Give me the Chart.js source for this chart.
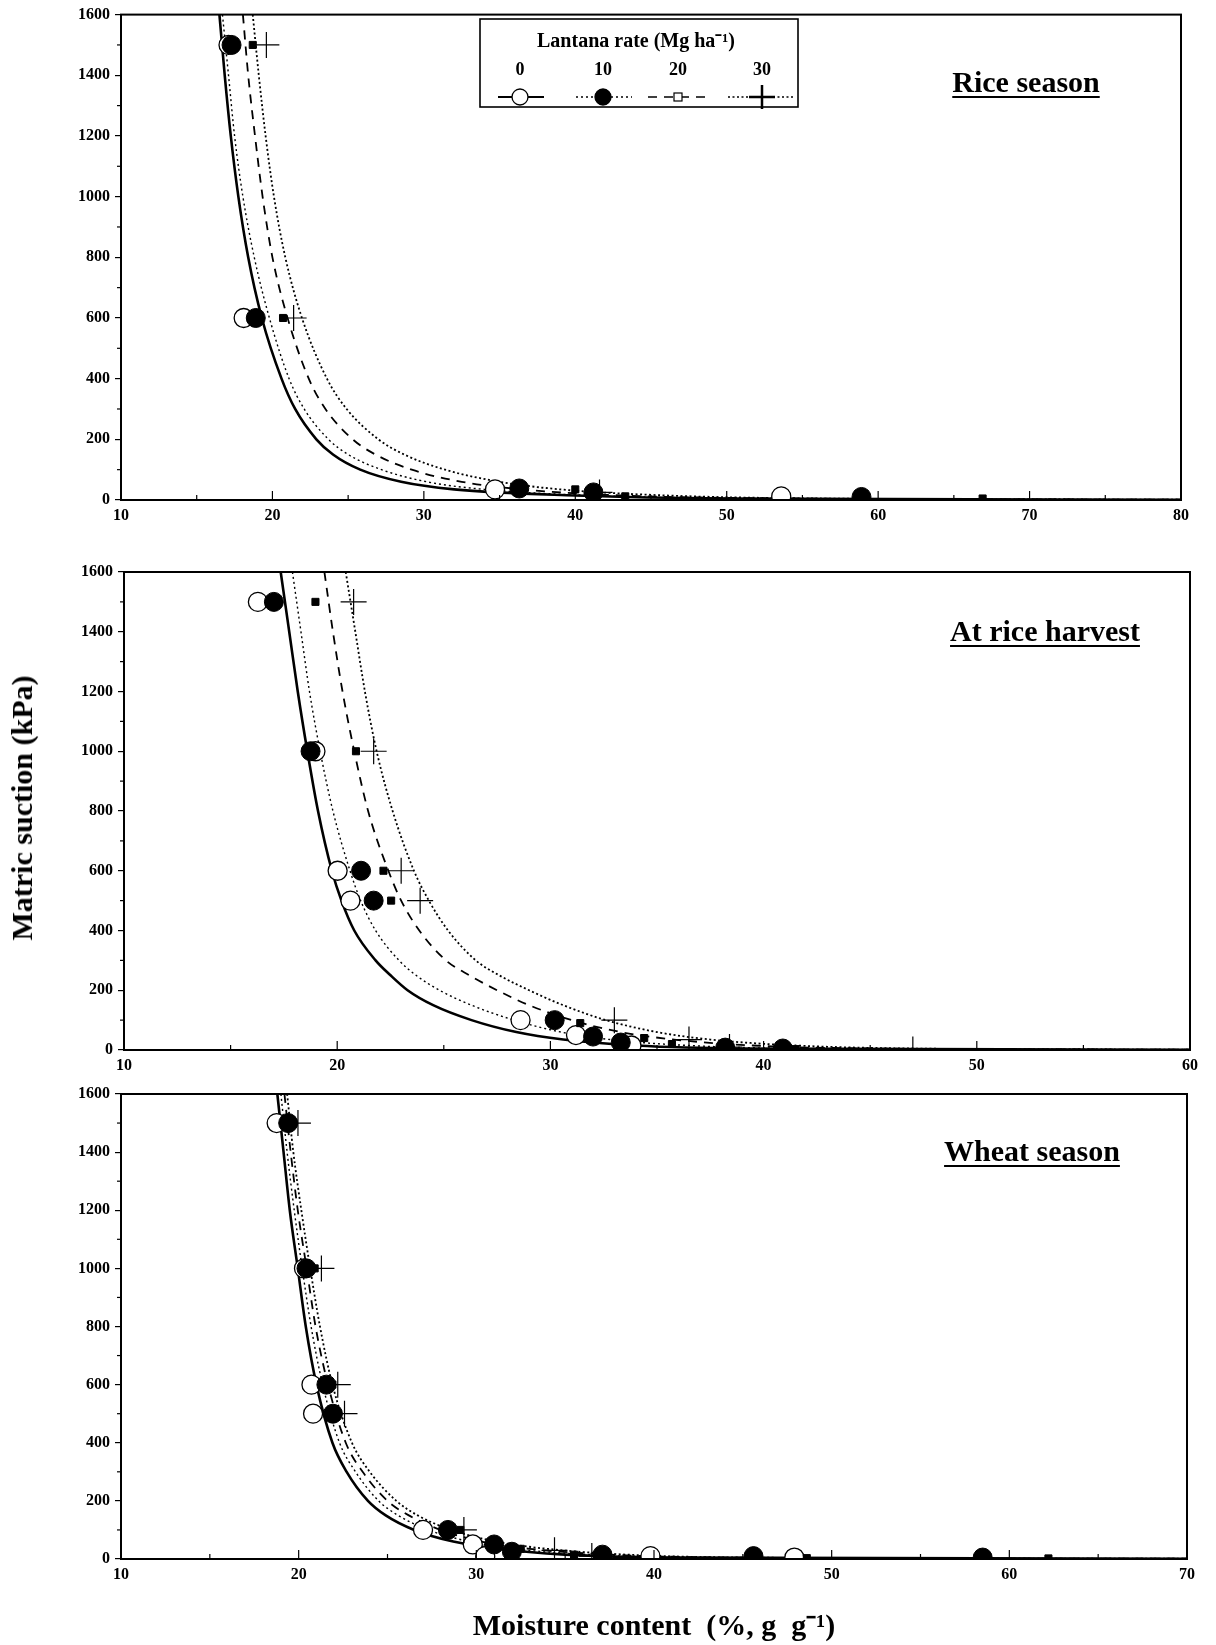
<!DOCTYPE html>
<html>
<head>
<meta charset="utf-8">
<script src="https://cdn.jsdelivr.net/npm/chart.js@4.4.0/dist/chart.umd.min.js"></script>
<style>
body{margin:0;background:#fff;width:1216px;height:1645px;position:relative;overflow:hidden;font-family:"Liberation Serif",serif}
canvas{position:absolute;left:0}
#ytitle{position:absolute;left:22px;top:808px;transform:translate(-50%,-50%) rotate(-90deg);font-weight:bold;font-size:30px;white-space:nowrap}
</style>
</head>
<body>
<canvas id="c1" style="top:0px"></canvas>
<canvas id="c2" style="top:530px"></canvas>
<canvas id="c3" style="top:1075px"></canvas>
<div id="ytitle">Matric suction (kPa)</div>
<script>
// Lantana rates (Mg ha-1)
var rates = ['0', '10', '20', '30'];

// ---- Rice season: measured points (moisture %, suction kPa)
var riceX0 = [17.1, 18.1, 34.7, 53.6];
var riceY0 = [1500, 600, 35, 12];
var riceX10 = [17.3, 18.9, 36.3, 41.2, 58.9];
var riceY10 = [1500, 600, 38, 25, 10];
var riceX20 = [18.7, 20.7, 40.0, 43.3, 66.9];
var riceY20 = [1500, 600, 35, 12, 5];
var riceX30 = [19.6, 21.4, 41.6];
var riceY30 = [1500, 600, 25];
// Rice season: fitted curves
var riceFitY = [1600, 1400, 1200, 1000, 800, 600, 400, 300, 200, 150, 100, 60, 35, 15, 5, 1];
var riceFitX0 = [16.5, 16.85, 17.25, 17.75, 18.4, 19.3, 20.6, 21.5, 22.9, 24.0, 25.8, 28.5, 32, 40, 50, 80];
var riceFitX10 = [16.7, 17.1, 17.5, 18.05, 18.8, 19.8, 21.1, 22.1, 23.7, 25.0, 27.2, 30.2, 34, 41, 52, 80];
var riceFitX20 = [18.05, 18.4, 18.85, 19.35, 20.0, 21.0, 22.4, 23.5, 25.3, 26.8, 29.2, 32.5, 36.5, 43, 54, 80];
var riceFitX30 = [18.7, 19.1, 19.55, 20.1, 20.85, 21.95, 23.6, 24.9, 27.0, 28.7, 31.4, 35, 39, 46, 56, 80];

// ---- At rice harvest: measured points
var harvX0 = [16.28, 18.98, 20.02, 20.62, 28.6, 31.2, 33.8];
var harvY0 = [1500, 1000, 600, 500, 100, 50, 15];
var harvX10 = [17.03, 18.75, 21.12, 21.71, 30.2, 32.0, 33.3, 38.2, 40.9];
var harvY10 = [1500, 1000, 600, 500, 100, 45, 25, 8, 5];
var harvX20 = [18.98, 20.88, 22.17, 22.53, 31.4, 34.4, 35.7, 41.5];
var harvY20 = [1500, 1000, 600, 500, 90, 40, 20, 3];
var harvX30 = [20.77, 21.71, 23.0, 23.89, 33.0, 36.5, 38.4, 47.0];
var harvY30 = [1500, 1000, 600, 500, 100, 35, 10, 2];
// At rice harvest: fitted curves
var harvFitY = [1600, 1400, 1200, 1000, 800, 600, 500, 400, 300, 250, 200, 150, 100, 60, 35, 15, 5, 1];
var harvFitX0 = [17.35, 17.75, 18.15, 18.6, 19.1, 19.75, 20.2, 20.8, 21.8, 22.5, 23.3, 24.5, 26.3, 28.4, 30.6, 34, 39, 60];
var harvFitX10 = [17.9, 18.3, 18.7, 19.2, 19.8, 20.6, 21.1, 21.8, 22.9, 23.7, 24.8, 26.3, 28.3, 30.5, 32.8, 36.5, 42, 60];
var harvFitX20 = [19.4, 19.8, 20.25, 20.8, 21.45, 22.4, 23.0, 23.85, 25.1, 26.2, 27.5, 29.0, 31.0, 33.3, 35.8, 39.5, 45, 60];
var harvFitX30 = [20.4, 20.85, 21.3, 21.85, 22.6, 23.6, 24.3, 25.2, 26.5, 27.6, 29.0, 30.6, 32.6, 35.0, 37.5, 41.5, 47, 60];

// ---- Wheat season: measured points
var wheatX0 = [18.76, 20.3, 20.72, 20.81, 27.0, 29.8, 30.5, 39.8, 47.9];
var wheatY0 = [1500, 1000, 600, 500, 100, 50, 10, 10, 5];
var wheatX10 = [19.41, 20.44, 21.56, 21.93, 28.4, 31.0, 32.0, 37.1, 45.6, 58.5];
var wheatY10 = [1500, 1000, 600, 500, 100, 50, 25, 15, 10, 5];
var wheatX20 = [19.7, 20.9, 21.9, 22.2, 29.1, 32.5, 35.5, 48.6, 62.2];
var wheatY20 = [1500, 1000, 600, 500, 100, 35, 15, 3, 2];
var wheatX30 = [19.96, 21.28, 22.2, 22.58, 29.3, 34.4, 36.5];
var wheatY30 = [1500, 1000, 600, 500, 100, 30, 10];
// Wheat season: fitted curves
var wheatFitY = [1600, 1400, 1200, 1000, 800, 600, 400, 300, 200, 150, 100, 60, 35, 15, 5, 1];
var wheatFitX0 = [18.8, 19.15, 19.5, 19.95, 20.4, 21.0, 21.9, 22.7, 23.9, 24.9, 26.5, 28.7, 31.2, 35, 41, 70];
var wheatFitX10 = [19.0, 19.35, 19.75, 20.2, 20.7, 21.35, 22.3, 23.2, 24.5, 25.6, 27.3, 29.6, 32.1, 36.5, 43, 70];
var wheatFitX20 = [19.2, 19.55, 19.95, 20.45, 20.95, 21.65, 22.65, 23.6, 25.0, 26.2, 28.0, 30.3, 33, 37.5, 44, 70];
var wheatFitX30 = [19.35, 19.7, 20.15, 20.65, 21.2, 21.9, 23.0, 24.0, 25.5, 26.7, 28.6, 31.1, 34, 38.5, 45, 70];

var FONT = '"Liberation Serif", "Times New Roman", serif';

function pairs(xs, ys) {
	return xs.map(function (x, i) { return {x: x, y: ys[i]}; });
}

// marker and line look for each rate (order: lower is drawn on top)
var markerStyle = [
	{order: 5, pointStyle: 'circle', pointRadius: 9.5, pointBackgroundColor: '#fff', pointBorderColor: '#000', pointBorderWidth: 1.3},
	{order: 4, pointStyle: 'circle', pointRadius: 9.5, pointBackgroundColor: '#000', pointBorderColor: '#000', pointBorderWidth: 1},
	{order: 3, pointStyle: 'rect', pointRadius: 5, pointBackgroundColor: '#000', pointBorderColor: '#000', pointBorderWidth: 1},
	{order: 2, pointStyle: 'cross', pointRadius: 13, pointBackgroundColor: '#000', pointBorderColor: '#000', pointBorderWidth: 1.2}
];
var lineStyle = [
	{borderWidth: 2.6, borderDash: []},
	{borderWidth: 1.4, borderDash: [2, 3]},
	{borderWidth: 1.8, borderDash: [9, 7]},
	{borderWidth: 1.8, borderDash: [2, 2.5]}
];

//draws box, inner x ticks, minor y ticks, panel title
var framePlugin = {
	id: 'frame',
	afterDraw: function (chart) {
		var ctx = chart.ctx, a = chart.chartArea, o = chart.options.plugins.frame;
		var xs = chart.scales.x, ys = chart.scales.y;
		ctx.save();
		ctx.strokeStyle = '#000';
		ctx.lineWidth = 2;
		ctx.strokeRect(a.left, a.top, a.right - a.left, a.bottom - a.top);
		ctx.lineWidth = 1.2;
		for (var v = xs.min + 5; v < xs.max; v += 5) {
			var px = xs.getPixelForValue(v);
			var len = (v % 10 === 0) ? 9 : 5;
			ctx.beginPath(); ctx.moveTo(px, a.bottom); ctx.lineTo(px, a.bottom - len); ctx.stroke();
		}
		for (var w = 100; w < 1600; w += 200) {
			var py = ys.getPixelForValue(w);
			ctx.beginPath(); ctx.moveTo(a.left, py); ctx.lineTo(a.left - 4, py); ctx.stroke();
		}
		// panel title
		ctx.font = 'bold 30px ' + FONT;
		ctx.fillStyle = '#000';
		ctx.textAlign = 'center';
		ctx.textBaseline = 'alphabetic';
		ctx.fillText(o.title, o.tx, o.ty);
		var tw = ctx.measureText(o.title).width;
		ctx.lineWidth = 2.2;
		ctx.beginPath(); ctx.moveTo(o.tx - tw / 2, o.ty + 5); ctx.lineTo(o.tx + tw / 2, o.ty + 5); ctx.stroke();
		ctx.restore();
	}
};

//legend box drawn inside the rice season panel
var legendPlugin = {
	id: 'lantanaLegend',
	afterDraw: function (chart) {
		if (!chart.options.plugins.lantanaLegend.show) return;
		var ctx = chart.ctx;
		var bx = 480, by = 19, bw = 318, bh = 88;
		ctx.save();
		ctx.fillStyle = '#fff';
		ctx.fillRect(bx, by, bw, bh);
		ctx.strokeStyle = '#000';
		ctx.lineWidth = 1.6;
		ctx.strokeRect(bx, by, bw, bh);
		ctx.fillStyle = '#000';
		ctx.textAlign = 'center';
		ctx.textBaseline = 'middle';
		ctx.font = 'bold 20px ' + FONT;
		ctx.fillText('Lantana rate (Mg ha\u207B\u00B9)', 636, 42);
		var cx = [520, 603, 678, 762];
		var seg = [[498, 544], [576, 632], [648, 706], [728, 795]];
		ctx.font = 'bold 18px ' + FONT;
		for (var i = 0; i < 4; i++) {
			ctx.fillText(rates[i], cx[i], 70);
			var y = 97;
			ctx.lineWidth = i === 0 ? 2 : 1.6;
			ctx.setLineDash(lineStyle[i].borderDash);
			ctx.beginPath(); ctx.moveTo(seg[i][0], y); ctx.lineTo(seg[i][1], y); ctx.stroke();
			ctx.setLineDash([]);
			if (i < 2) {
				ctx.beginPath(); ctx.arc(cx[i], y, 8, 0, Math.PI * 2);
				ctx.fillStyle = i === 0 ? '#fff' : '#000';
				ctx.fill(); ctx.lineWidth = 1.3; ctx.stroke();
				ctx.fillStyle = '#000';
			} else if (i === 2) {
				ctx.fillStyle = '#fff';
				ctx.fillRect(cx[i] - 4, y - 4, 8, 8);
				ctx.lineWidth = 1.2;
				ctx.strokeRect(cx[i] - 4, y - 4, 8, 8);
				ctx.fillStyle = '#000';
			} else {
				ctx.lineWidth = 2.5;
				ctx.beginPath();
				ctx.moveTo(cx[i] - 13, y); ctx.lineTo(cx[i] + 13, y);
				ctx.moveTo(cx[i], y - 12); ctx.lineTo(cx[i], y + 12);
				ctx.stroke();
			}
		}
		ctx.restore();
	}
};

function makePanel(id, w, h, cfg) {
	var cv = document.getElementById(id);
	cv.width = w; cv.height = h;
	cv.style.width = w + 'px'; cv.style.height = h + 'px';
	var datasets = [];
	for (var i = 0; i < 4; i++) {
		datasets.push(Object.assign({
			label: rates[i],
			data: pairs(cfg.px[i], cfg.py[i]),
			showLine: false
		}, markerStyle[i]));
	}
	for (var j = 0; j < 4; j++) {
		datasets.push(Object.assign({
			label: 'fit ' + rates[j],
			data: pairs(cfg.fx[j], cfg.fy),
			order: 10,
			showLine: true,
			pointRadius: 0,
			borderColor: '#000',
			cubicInterpolationMode: 'monotone',
			clip: true
		}, lineStyle[j]));
	}
	return new Chart(cv, {
		type: 'scatter',
		data: {datasets: datasets},
		options: {
			responsive: false,
			animation: false,
			layout: {padding: {top: cfg.top, right: cfg.right, left: 0, bottom: 0}},
			plugins: {
				legend: {display: false},
				tooltip: {enabled: false},
				frame: {title: cfg.title, tx: cfg.tx, ty: cfg.ty},
				lantanaLegend: {show: !!cfg.legend}
			},
			scales: {
				x: {
					type: 'linear', min: 10, max: cfg.xmax,
					afterFit: function (s) { s.height = cfg.xh; },
					ticks: {stepSize: 10, color: '#000', padding: 6, font: {family: FONT, size: 16, weight: 'bold'},
						callback: function (v) { return String(v); }},
					grid: {display: false, drawTicks: false},
					border: {display: false},
					title: cfg.xtitle ? {display: true, text: cfg.xtitle, color: '#000', padding: {top: 40, bottom: 0}, font: {family: FONT, size: 30, weight: 'bold'}} : {display: false}
				},
				y: {
					type: 'linear', min: 0, max: 1600,
					afterFit: function (s) { s.width = cfg.yw; },
					ticks: {stepSize: 200, color: '#000', padding: 5, font: {family: FONT, size: 16, weight: 'bold'},
						callback: function (v) { return String(v); }},
					grid: {drawOnChartArea: false, drawTicks: true, tickLength: 6, color: '#000', lineWidth: 1.2},
					border: {display: false}
				}
			}
		},
		plugins: [framePlugin, legendPlugin]
	});
}

makePanel('c1', 1216, 530, {
	px: [riceX0, riceX10, riceX20, riceX30], py: [riceY0, riceY10, riceY20, riceY30],
	fx: [riceFitX0, riceFitX10, riceFitX20, riceFitX30], fy: riceFitY,
	xmax: 80, top: 13, right: 35, yw: 121, xh: 30,
	title: 'Rice season', tx: 1026, ty: 92, legend: true
});
makePanel('c2', 1216, 545, {
	px: [harvX0, harvX10, harvX20, harvX30], py: [harvY0, harvY10, harvY20, harvY30],
	fx: [harvFitX0, harvFitX10, harvFitX20, harvFitX30], fy: harvFitY,
	xmax: 60, top: 42, right: 26, yw: 124, xh: 25,
	title: 'At rice harvest', tx: 1045, ty: 111
});
makePanel('c3', 1216, 570, {
	px: [wheatX0, wheatX10, wheatX20, wheatX30], py: [wheatY0, wheatY10, wheatY20, wheatY30],
	fx: [wheatFitX0, wheatFitX10, wheatFitX20, wheatFitX30], fy: wheatFitY,
	xmax: 70, top: 19, right: 29, yw: 121, xh: 86,
	title: 'Wheat season', tx: 1032, ty: 86,
	xtitle: 'Moisture content  (%, g  g\u207B\u00B9)'
});
</script>
</body>
</html>
